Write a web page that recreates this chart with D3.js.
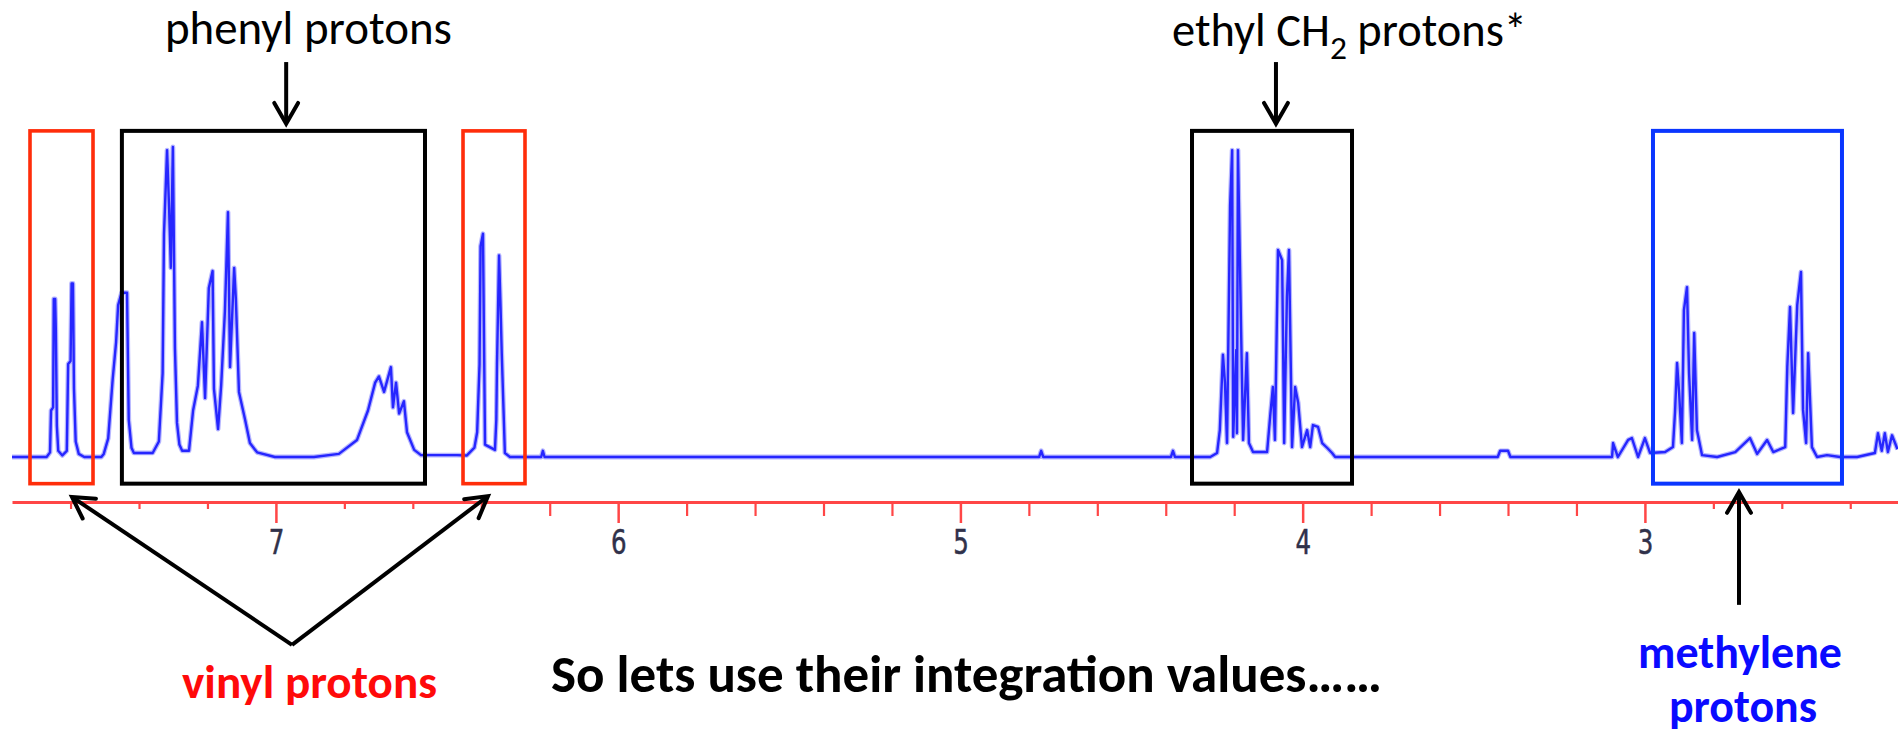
<!DOCTYPE html>
<html><head><meta charset="utf-8">
<script src="https://cdn.jsdelivr.net/npm/d3@7/dist/d3.min.js"></script>
<style>
html,body{margin:0;padding:0;background:#fff;overflow:hidden;}
svg{display:block;}
</style></head>
<body>
<svg id="chart" width="1898" height="734"></svg>
<script>
// ---------- DATA ----------
// chemical shift (ppm) of each spectrum sample
const shiftPpm = [
7.771,7.670,7.660,7.657,7.651,7.649,7.645,7.643,7.640,7.636,7.624,7.611,7.607,7.600,7.597,7.593,7.590,7.585,7.576,7.560,
7.510,7.503,7.490,7.477,7.467,7.461,7.451,7.440,7.435,7.430,7.422,7.415,7.360,7.342,7.331,7.327,7.318,7.312,7.307,7.301,
7.295,7.289,7.282,7.274,7.254,7.242,7.228,7.216,7.207,7.196,7.185,7.181,7.169,7.160,7.149,7.140,7.134,7.122,7.117,7.108,
7.090,7.076,7.055,7.003,6.889,6.816,6.763,6.731,6.710,6.699,6.684,6.664,6.658,6.649,6.640,6.626,6.617,6.596,6.576,6.471,
6.442,6.420,6.412,6.405,6.402,6.395,6.389,6.360,6.356,6.354,6.348,6.344,6.340,6.331,6.316,6.225,6.220,6.215,
4.770,4.764,4.758,4.385,4.379,4.373,
4.270,4.250,4.242,4.233,4.227,4.221,4.212,4.206,4.203,4.194,4.192,4.189,4.180,4.174,4.163,4.157,4.145,4.104,4.095,4.087,
4.081,4.072,4.060,4.054,4.046,4.040,4.031,4.022,4.013,4.002,3.987,3.978,3.970,3.955,3.943,3.928,3.914,3.905,
3.430,3.423,3.400,3.393,
3.096,3.093,3.079,3.049,3.038,3.020,3.000,2.985,2.941,2.918,2.912,2.906,2.900,2.892,2.886,2.877,2.871,2.862,2.856,2.848,
2.833,2.789,2.736,2.693,2.672,2.643,2.625,2.590,2.584,2.576,2.567,2.555,2.544,2.538,2.529,2.523,2.512,2.497,2.468,2.430,
2.380,2.328,2.319,2.308,2.299,2.290,2.278,2.262
];
// signal intensity (relative, tallest line = 100)
const intensity = [
0,0,1.5,15,16,51,51,41,10,2,0.5,2,30,31,56,56,22,5,1,0,
0,1,6,25,37,49,53,53,53,12,3,1.3,1.3,5,27,72,99,80,61,100,
35,11,4,2,2,15,23,43.5,19,54.5,60,22,9,23,47,79,29,61,51,21,
12,4.5,1.5,0,0,1,5.5,15,24,26,21,29,16,24,14,18,8,2.3,0.6,0.6,
0.5,3,8,30,68,72,4,2.3,12,30,65,50,33,1.3,0,0,2,0,
0,2,0,0,2,0,
0,1.3,8.7,33,24,4.5,81,99,6.5,34.5,7.7,99,41.6,5.5,33.5,4.5,1.6,1.6,13,22.6,
5.5,66.8,63.5,4.5,51.6,66.8,3.2,22.6,17.4,3.2,8.7,3.2,10.3,9.7,4.5,2.9,1.3,0,
0,2,2,0,
0,4.5,0,5.5,6.1,0,6.1,1.3,1.6,3.2,14.5,30.3,20.6,4.5,47.4,54.8,27,5.5,40,8.7,
0.6,0,1.6,6.1,1,5.5,1.6,3.2,29,48.4,14.2,49,59.7,15.2,4.5,33.5,3.2,0,0.6,0,
0,1.3,7.7,2,7.7,1.6,7,2.5
];
// axis ticks (ppm)
const majorTicks = [7, 6, 5, 4, 3];
const minorTicks = [7.6,7.4,7.2,6.8,6.6,6.4,6.2,5.8,5.6,5.4,5.2,4.8,4.6,4.4,4.2,3.8,3.6,3.4,3.2,2.8,2.6,2.4];
// highlighted regions (ppm ranges)
const regionKeys = ["vinylA", "phenyl", "vinylB", "ethyl", "methylene"];
const regionStart = [7.7185, 7.4500, 6.4533, 4.3233, 2.9764];
const regionEnd   = [7.5344, 6.5644, 6.2722, 3.8558, 2.4242];
// labels
const labelPhenyl = "phenyl protons";
const labelEthylMain = "ethyl CH";
const labelEthylSub = "2";
const labelEthylRest = " protons*";
const labelVinyl = "vinyl protons";
const labelNote = "So lets use their integration values……";
const labelMethylene = ["methylene", "protons"];

// ---------- SCALES ----------
const svg = d3.select("#chart");
const x = d3.scaleLinear().domain([7.7711, 2.2605]).range([12, 1898]);
const y = d3.scaleLinear().domain([0, 100]).range([457, 147]);

// ---------- STYLES ----------
const regionStroke = {vinylA:"#ff2d0a", phenyl:"#000000", vinylB:"#ff2d0a", ethyl:"#000000", methylene:"#0a36ff"};
const boxTop = 105.2, boxBottom = -8.6;

// ---------- AXIS ----------
const axisY = 502;
const axisColor = "#ff4646";
const gAxis = svg.append("g").attr("transform", `translate(0,${axisY})`);
gAxis.call(d3.axisBottom(x).tickValues(majorTicks).tickSize(21).tickSizeOuter(0).tickPadding(7).tickFormat(d3.format("d")));
gAxis.attr("font-size", null).attr("font-family", null);
gAxis.select(".domain").attr("stroke", axisColor).attr("stroke-width", 3);
gAxis.selectAll(".tick line").attr("stroke", axisColor).attr("stroke-width", 2.5);
gAxis.selectAll(".tick text")
  .style("font-family", "'DejaVu Sans Condensed','DejaVu Sans',sans-serif")
  .style("font-size", "34px")
  .attr("transform", "scale(0.8,1)")
  .attr("fill", "#30314a")
  .attr("stroke", "#30314a").attr("stroke-width", 0.5);

const shortMinor = minorTicks.filter(v => v > 6.3 || v < 3);
const longMinor = minorTicks.filter(v => !(v > 6.3 || v < 3));
[[shortMinor, 7], [longMinor, 14]].forEach(([vals, len]) => {
  const g = svg.append("g").attr("transform", `translate(0,${axisY})`)
    .call(d3.axisBottom(x).tickValues(vals).tickSize(len).tickSizeOuter(0).tickFormat(""));
  g.select(".domain").remove();
  g.selectAll(".tick line").attr("stroke", axisColor).attr("stroke-width", 2.2);
});

// ---------- SPECTRUM ----------
const spectrum = shiftPpm.map((p, i) => ({ppm: p, v: intensity[i]}));
const line = d3.line().x(d => x(d.ppm)).y(d => y(d.v));
svg.append("path").datum(spectrum)
  .attr("d", line).attr("fill", "none")
  .attr("stroke", "#7a7aff").attr("stroke-width", 4.8).attr("stroke-linejoin", "round").attr("opacity", 0.55);
svg.append("path").datum(spectrum)
  .attr("d", line).attr("fill", "none")
  .attr("stroke", "#2626ff").attr("stroke-width", 2.4).attr("stroke-linejoin", "round");

// ---------- REGION BOXES ----------
svg.append("g").selectAll("rect").data(regionKeys).join("rect")
  .attr("x", (k, i) => x(regionStart[i]))
  .attr("width", (k, i) => x(regionEnd[i]) - x(regionStart[i]))
  .attr("y", y(boxTop))
  .attr("height", y(boxBottom) - y(boxTop))
  .attr("fill", "none")
  .attr("stroke", k => regionStroke[k])
  .attr("stroke-width", k => k === "vinylA" || k === "vinylB" ? 3.6 : 4);

// ---------- ARROWS ----------
function arrow(p1, p2, color) {
  const x1 = x(p1[0]), y1 = y(p1[1]), x2 = x(p2[0]), y2 = y(p2[1]);
  const a = Math.atan2(y2 - y1, x2 - x1), L = 24, s = 0.52;
  svg.append("path")
    .attr("d", `M${x1},${y1}L${x2 - 2*Math.cos(a)},${y2 - 2*Math.sin(a)}`)
    .attr("stroke", color).attr("stroke-width", 4).attr("fill", "none");
  svg.append("path")
    .attr("d", `M${x2 - L*Math.cos(a - s)},${y2 - L*Math.sin(a - s)}L${x2},${y2}L${x2 - L*Math.cos(a + s)},${y2 - L*Math.sin(a + s)}`)
    .attr("stroke", color).attr("stroke-width", 4).attr("fill", "none")
    .attr("stroke-linejoin", "miter").attr("stroke-linecap", "round");
}
arrow([6.970, 127.4], [6.970, 107.5], "#000");
arrow([4.078, 127.4], [4.078, 107.5], "#000");
arrow([6.953, -60.6], [7.5958, -12.9], "#000");
arrow([6.953, -60.6], [6.3803, -12.6], "#000");
arrow([2.7251, -47.7], [2.7251, -11.3], "#000");

// ---------- TEXT ----------
const sansFont = "Carlito, Calibri, Lato, 'Open Sans', sans-serif";
function fitText(t, target) {
  const w = t.node().getComputedTextLength();
  const fs = parseFloat(t.attr("font-size"));
  t.attr("font-size", fs * target / w);
  return fs * target / w;
}
function label(txt, ppm, v, width, opts) {
  const t = svg.append("text")
    .attr("x", x(ppm)).attr("y", y(v))
    .attr("text-anchor", "middle")
    .attr("font-family", sansFont)
    .attr("font-size", 36)
    .attr("font-weight", opts.bold ? 700 : 400)
    .attr("fill", opts.color)
    .text(txt);
  fitText(t, width);
  return t;
}
label(labelPhenyl, 6.905, 133.2, 287, {color: "#000"});

// ethyl CH2 with subscript
const et = svg.append("text")
  .attr("x", x(3.863)).attr("y", y(132.6))
  .attr("text-anchor", "middle")
  .attr("font-family", sansFont).attr("font-size", 36).attr("fill", "#000");
et.append("tspan").text(labelEthylMain);
const sub = et.append("tspan").attr("font-size", "0.72em").text(labelEthylSub);
const rest = et.append("tspan").text(labelEthylRest);
const efs = fitText(et, 355);
sub.attr("dy", 0.28 * efs);
rest.attr("dy", -0.28 * efs);

label(labelVinyl, 6.9018, -77.7, 255, {bold: true, color: "#ff0a0a"});
label(labelNote, 4.9822, -75.8, 831, {bold: true, color: "#000"});
label(labelMethylene[0], 2.7222, -68.1, 204, {bold: true, color: "#0a0aff"});
label(labelMethylene[1], 2.7134, -85.5, 148, {bold: true, color: "#0a0aff"});
</script>
</body></html>
